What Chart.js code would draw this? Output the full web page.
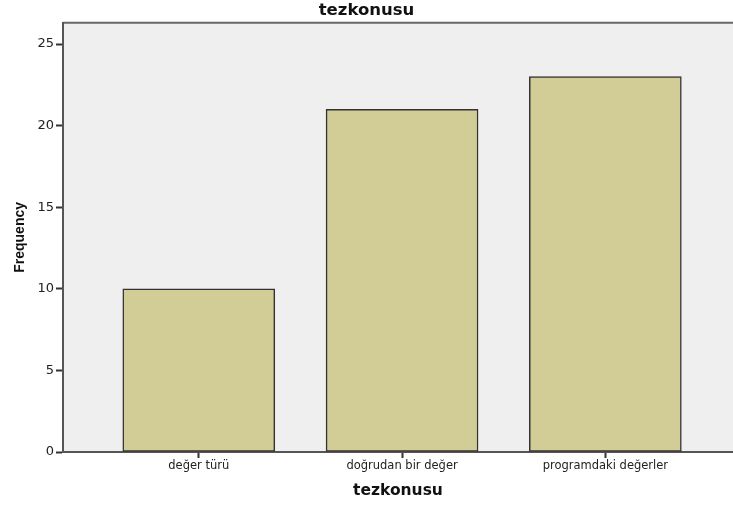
<!DOCTYPE html>
<html>
<head>
<meta charset="utf-8">
<script src="https://cdn.jsdelivr.net/npm/chart.js@4"></script>
<style>
  html, body { margin: 0; padding: 0; background: #fff; }
  #wrap { width: 733px; height: 508px; }
</style>
</head>
<body>
<div id="wrap"><canvas id="chart"></canvas></div>
<script>
const categories = ["değer türü", "doğrudan bir değer", "programdaki değerler"]
const frequencies = [10, 21, 23]
const yTicks = [0, 5, 10, 15, 20, 25]

// gray plot background with a top border line, like the SPSS frame
const plotFrame = {
  id: "plotFrame",
  beforeDraw(chart) {
    const { ctx, chartArea: a } = chart
    ctx.save()
    ctx.fillStyle = "#efefef"
    ctx.fillRect(a.left, a.top, a.right - a.left, a.bottom - a.top)
    ctx.strokeStyle = "#666"
    ctx.lineWidth = 2
    ctx.beginPath()
    ctx.moveTo(a.left, a.top)
    ctx.lineTo(a.right, a.top)
    ctx.stroke()
    ctx.restore()
  }
}

new Chart(document.getElementById("chart"), {
  type: "bar",
  data: {
    datasets: [{
      label: "Frequency",
      data: categories.map((c, i) => ({ x: i + 1, y: frequencies[i] })),
      backgroundColor: "#d2cd96",
      borderColor: "#333",
      borderWidth: 1.5,
      borderSkipped: false,
      barThickness: 152
    }]
  },
  options: {
    responsive: true,
    maintainAspectRatio: false,
    animation: false,
    layout: { padding: 0 },
    plugins: {
      legend: { display: false },
      tooltip: { enabled: false },
      title: {
        display: true,
        text: "tezkonusu",
        color: "#111",
        font: { family: "'DejaVu Sans'", size: 16.5, weight: "bold" },
        padding: { top: 1, bottom: 2 }
      }
    },
    scales: {
      x: {
        type: "linear",
        offset: false,
        min: 0.332,
        max: 3.628,
        afterBuildTicks: scale => {
          scale.ticks = categories.map((c, i) => ({ value: i + 1 }))
        },
        afterFit: scale => { scale.height = 56 },
        grid: {
          offset: false,
          drawOnChartArea: false,
          drawTicks: true,
          tickLength: 6,
          tickWidth: 2,
          tickColor: "#333"
        },
        border: { display: true, color: "#555", width: 2 },
        ticks: {
          autoSkip: false,
          maxRotation: 0,
          padding: 1,
          color: "#222",
          font: { family: "'DejaVu Sans'", size: 11.5 },
          callback: v => categories[v - 1]
        },
        title: {
          display: true,
          text: "tezkonusu",
          color: "#111",
          font: { family: "'DejaVu Sans'", size: 15.5, weight: "bold" },
          padding: { top: 0, bottom: 8 }
        }
      },
      y: {
        min: 0,
        max: 26.3,
        afterBuildTicks: scale => {
          scale.ticks = yTicks.map(v => ({ value: v }))
        },
        afterFit: scale => { scale.width = 63 },
        grid: {
          drawOnChartArea: false,
          drawTicks: true,
          tickLength: 7,
          tickWidth: 2,
          tickColor: "#333"
        },
        border: { display: true, color: "#555", width: 2 },
        ticks: {
          padding: 2,
          color: "#222",
          font: { family: "'DejaVu Sans'", size: 13 }
        },
        title: {
          display: true,
          text: "Frequency",
          color: "#111",
          font: { family: "'Liberation Sans'", size: 14, weight: "bold" },
          padding: { top: 12, bottom: 0 }
        }
      }
    }
  },
  plugins: [plotFrame]
})
</script>
</body>
</html>
